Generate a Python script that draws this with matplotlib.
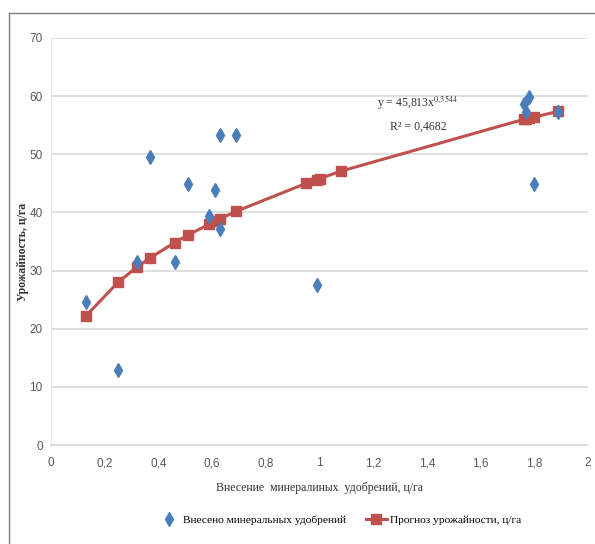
import numpy as np
import matplotlib.pyplot as plt
from matplotlib.lines import Line2D

# Фактические точки (синие ромбы)
x_fakt = [0.13, 0.25, 0.32, 0.37, 0.46, 0.51, 0.59, 0.61, 0.63, 0.63, 0.69,
          0.99, 1.76, 1.77, 1.78, 1.80, 1.89]
y_fakt = [24.6, 12.9, 31.4, 49.6, 31.5, 44.9, 39.3, 43.9, 53.4, 37.2, 53.4,
          27.5, 58.7, 57.3, 59.8, 44.9, 57.3]

# Прогноз урожайности (красная линия с квадратами)
x_prog = [0.13, 0.25, 0.32, 0.37, 0.46, 0.51, 0.59, 0.61, 0.63, 0.69,
          0.95, 0.99, 1.00, 1.08, 1.76, 1.77, 1.78, 1.80, 1.89]
y_prog = [22.2, 28.0, 30.6, 32.2, 34.8, 36.1, 38.0, 38.5, 38.9, 40.2,
          45.0, 45.6, 45.8, 47.1, 56.0, 56.1, 56.2, 56.4, 57.4]

x_ticks = [0, 0.2, 0.4, 0.6, 0.8, 1, 1.2, 1.4, 1.6, 1.8, 2]
x_tick_labels = ['0', '0,2', '0,4', '0,6', '0,8', '1', '1,2', '1,4', '1,6', '1,8', '2']
y_ticks = [0, 10, 20, 30, 40, 50, 60, 70]

serif = ['Liberation Serif', 'DejaVu Serif']
narrow = ['Liberation Sans Narrow', 'Liberation Sans', 'DejaVu Sans']
plt.rcParams['mathtext.fontset'] = 'stix'

fig = plt.figure(figsize=(5.95, 5.44), dpi=100)
ax = fig.add_axes([51 / 595, 1 - 445 / 544, (588 - 51) / 595, (445 - 38) / 544])

ax.plot(x_prog, y_prog, '-s', color='#c0504d', markersize=7, linewidth=2.2,
        label='Прогноз урожайности, ц/га', zorder=3)
ax.plot(x_fakt, y_fakt, 'd', color='#4a7ebb', markersize=7, linestyle='none',
        label='Внесено минеральных удобрений', zorder=4)

ax.set_xlim(0, 2)
ax.set_ylim(0, 70)
ax.set_xticks(x_ticks)
ax.set_xticklabels(x_tick_labels)
ax.set_yticks(y_ticks)
for lbl in ax.get_xticklabels() + ax.get_yticklabels():
    lbl.set_family(narrow)
    lbl.set_fontsize(8.5)
    lbl.set_color('#595959')
ax.tick_params(axis='x', length=0, pad=9)
ax.tick_params(axis='y', length=0, pad=6)
ax.grid(axis='y', color='#d9d9d9', linewidth=1.2)
ax.set_axisbelow(True)
for side in ['top', 'right']:
    ax.spines[side].set_visible(False)
ax.spines['left'].set_color('#e6e6e6')
ax.spines['bottom'].set_color('#d9d9d9')
ax.spines['bottom'].set_linewidth(1.2)

ax.set_xlabel('Внесение  минералиных  удобрений, ц/га', family=serif, fontsize=8.5,
              color='#333333', labelpad=9)
fig.text(23 / 595, 1 - 252 / 544, 'Урожайность, ц/га', family=serif, fontsize=8.5,
         fontweight='bold', color='#333333', rotation=90, ha='center', va='center')

ax.text(1.367, 58.3, 'y = 45,813x$^{0{,}3544}$', family=serif, fontsize=8.5,
        ha='center', color='#333333')
ax.text(1.367, 54.3, 'R² = 0,4682', family=serif, fontsize=8.5, ha='center', color='#333333')

handles, labels = ax.get_legend_handles_labels()
fig.legend(handles[::-1], labels[::-1], loc='center', bbox_to_anchor=(340 / 595, 1 - 520 / 544),
           ncol=2, frameon=False, prop={'family': serif, 'size': 8.2},
           columnspacing=1.8, handlelength=1.8, handletextpad=0.3)

# рамка области диаграммы
fig.add_artist(Line2D([9 / 595, 1], [1 - 13 / 544, 1 - 13 / 544], color='#7f7f7f', linewidth=1))
fig.add_artist(Line2D([9 / 595, 9 / 595], [0, 1 - 13 / 544], color='#7f7f7f', linewidth=1))

fig.savefig('out.png', dpi=100)
